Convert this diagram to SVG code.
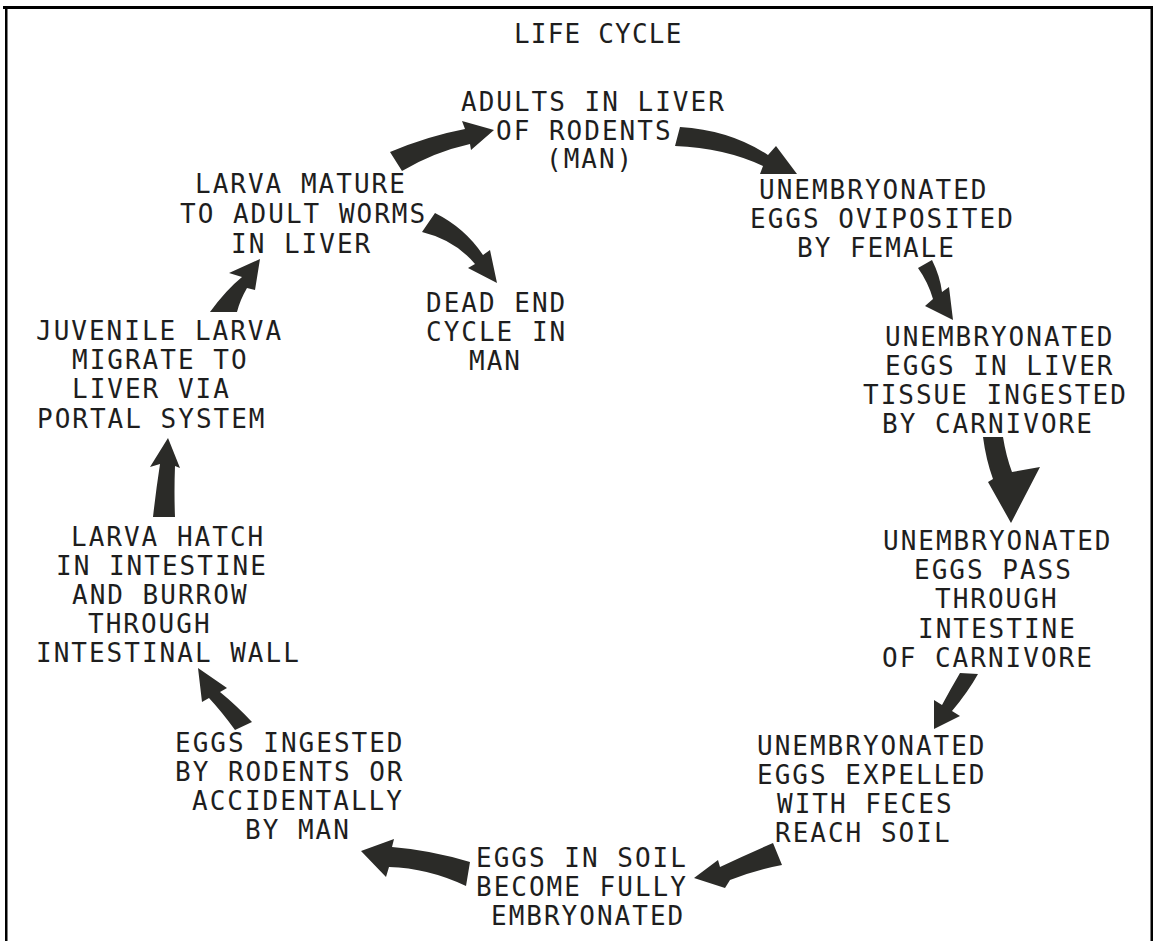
<svg xmlns="http://www.w3.org/2000/svg" width="1153" height="941" viewBox="0 0 1153 941">
<style>
text{font-family:"DejaVu Sans Mono","Liberation Mono",monospace;font-size:26px;letter-spacing:2px;fill:#1e1e1e}
.arr{fill:#2b2b28}
.frame{fill:#000}
</style>
<rect width="1153" height="941" fill="#fff"/>
<g id="frame">
<rect class="frame" x="3" y="6" width="1150" height="3"/>
<rect class="frame" x="5" y="6" width="2.5" height="935"/>
<rect class="frame" x="1150.5" y="6" width="2.5" height="935"/>
</g>
<g id="title"><text x="514" y="43" style="letter-spacing:1.2px">LIFE CYCLE</text></g>
<g id="n-adults">
<text x="461" y="111">ADULTS IN LIVER</text>
<text x="496" y="140">OF RODENTS</text>
<text x="546" y="168">(MAN)</text>
</g>
<g id="n-oviposited">
<text x="759" y="199">UNEMBRYONATED</text>
<text x="750" y="228">EGGS OVIPOSITED</text>
<text x="797" y="257">BY FEMALE</text>
</g>
<g id="n-liver-tissue">
<text x="885" y="346">UNEMBRYONATED</text>
<text x="885" y="375">EGGS IN LIVER</text>
<text x="863" y="404">TISSUE INGESTED</text>
<text x="882" y="433">BY CARNIVORE</text>
</g>
<g id="n-pass">
<text x="883" y="550">UNEMBRYONATED</text>
<text x="914" y="579">EGGS PASS</text>
<text x="935" y="608">THROUGH</text>
<text x="918" y="638">INTESTINE</text>
<text x="882" y="667">OF CARNIVORE</text>
</g>
<g id="n-expelled">
<text x="757" y="755">UNEMBRYONATED</text>
<text x="757" y="784">EGGS EXPELLED</text>
<text x="777" y="813">WITH FECES</text>
<text x="775" y="842">REACH SOIL</text>
</g>
<g id="n-soil">
<text x="476" y="867">EGGS IN SOIL</text>
<text x="476" y="896">BECOME FULLY</text>
<text x="491" y="925">EMBRYONATED</text>
</g>
<g id="n-ingested">
<text x="175" y="752">EGGS INGESTED</text>
<text x="175" y="781">BY RODENTS OR</text>
<text x="192" y="810">ACCIDENTALLY</text>
<text x="245" y="839">BY MAN</text>
</g>
<g id="n-hatch">
<text x="71" y="546">LARVA HATCH</text>
<text x="56" y="575">IN INTESTINE</text>
<text x="72" y="604">AND BURROW</text>
<text x="88" y="633">THROUGH</text>
<text x="36" y="662">INTESTINAL WALL</text>
</g>
<g id="n-juvenile">
<text x="36" y="340">JUVENILE LARVA</text>
<text x="72" y="369">MIGRATE TO</text>
<text x="72" y="398">LIVER VIA</text>
<text x="37" y="428">PORTAL SYSTEM</text>
</g>
<g id="n-mature">
<text x="195" y="193">LARVA MATURE</text>
<text x="180" y="223">TO ADULT WORMS</text>
<text x="231" y="253">IN LIVER</text>
</g>
<g id="n-deadend">
<text x="426" y="312">DEAD END</text>
<text x="426" y="341">CYCLE IN</text>
<text x="469" y="370">MAN</text>
</g>
<g id="connectors">
<path class="arr" d="M390,152 Q428,136 465,129 L462,121 L494,130 L471,150 L470,144 Q434,152 402,171 Z"/>
<path class="arr" d="M680,127 Q730,130 768,155 L776,146 L797,174 L760,174 L763,166 Q725,148 675,146 Z"/>
<path class="arr" d="M435,213 Q465,228 483,255 L490,250 L497,283 L468,268 L475,264 Q455,240 422,232 Z"/>
<path class="arr" d="M932,260 Q940,276 942,292 L949,287 L953,320 L925,306 L933,299 Q928,282 918,268 Z"/>
<path class="arr" d="M983,437 L1003,437 Q1006,456 1012,472 L1040,467 L1011,523 L988,482 L993,479 Q986,460 983,437 Z"/>
<path class="arr" d="M960,673 L978,674 Q968,692 952,711 L960,716 L934,729 L934,700 L942,705 Q950,690 960,673 Z"/>
<path class="arr" d="M773,843 Q745,855 720,867 L718,860 L694,878 L725,888 L730,880 Q755,870 782,865 Z"/>
<path class="arr" d="M470,862 Q430,850 392,847 L394,839 L361,851 L386,877 L389,867 Q428,868 466,886 Z"/>
<path class="arr" d="M198,668 L227,688 L220,692 Q236,705 252,722 L235,730 Q222,712 209,698 L202,702 Z"/>
<path class="arr" d="M168,438 L180,468 L175,466 Q174,492 175,517 L153,517 Q156,490 160,464 L150,467 Z"/>
<path class="arr" d="M260,259 L255,290 L247,288 Q240,300 237,312 L210,312 Q226,290 242,277 L229,273 Z"/>
</g>
</svg>
